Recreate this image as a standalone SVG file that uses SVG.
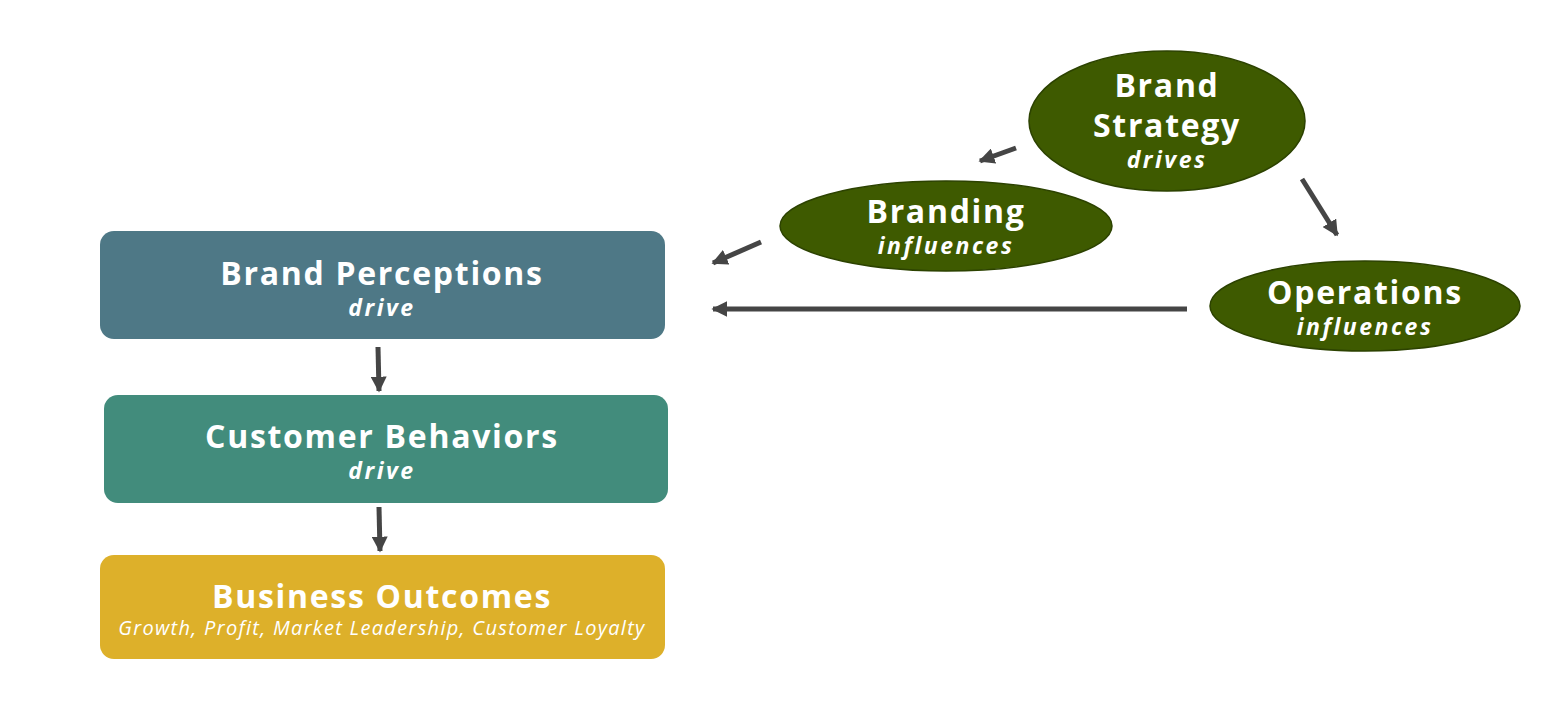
<svg xmlns="http://www.w3.org/2000/svg" width="1560" height="706" viewBox="0 0 1560 706">
<defs>
<marker id="ah" viewBox="0 0 10 10" refX="9" refY="5" markerWidth="3.2" markerHeight="3.2" orient="auto" markerUnits="strokeWidth">
<path d="M0,0 L10,5 L0,10 z" fill="#454545"/>
</marker>
</defs>
<style>
.t{font-family:"Open Sans","Liberation Sans",sans-serif;font-weight:700;fill:#fff;text-anchor:middle;font-size:32px;letter-spacing:1.7px}
.s{font-family:"Open Sans","Liberation Sans",sans-serif;font-weight:700;font-style:italic;fill:#fff;text-anchor:middle;font-size:23px;letter-spacing:2.5px}
.n{font-family:"Open Sans","Liberation Sans",sans-serif;font-weight:400;font-style:italic;fill:#fff;text-anchor:middle;font-size:20px;letter-spacing:1.3px}
.e{fill:#3e5a00;stroke:#2c4200;stroke-width:1.5}
.c{stroke:#454545;stroke-width:5;fill:none;marker-end:url(#ah)}
</style>
<rect width="1560" height="706" fill="#fff"/>
<g id="brand-perceptions">
<rect x="100" y="231" width="565" height="108" rx="14" fill="#4e7886"/>
<text class="t" x="382" y="285">Brand Perceptions</text>
<text class="s" x="382" y="316">drive</text>
</g>
<g id="customer-behaviors">
<rect x="104" y="395" width="564" height="108" rx="14" fill="#428c7c"/>
<text class="t" x="382" y="448">Customer Behaviors</text>
<text class="s" x="382" y="479">drive</text>
</g>
<g id="business-outcomes">
<rect x="100" y="555" width="565" height="104" rx="14" fill="#ddb02a"/>
<text class="t" x="382" y="608">Business Outcomes</text>
<text class="n" x="382" y="635">Growth, Profit, Market Leadership, Customer Loyalty</text>
</g>
<g id="brand-strategy">
<ellipse class="e" cx="1167" cy="121" rx="138" ry="70"/>
<text class="t" x="1167" y="97">Brand</text>
<text class="t" x="1167" y="137">Strategy</text>
<text class="s" x="1167" y="168">drives</text>
</g>
<g id="branding">
<ellipse class="e" cx="946" cy="226" rx="166" ry="45"/>
<text class="t" x="946" y="223">Branding</text>
<text class="s" x="946" y="254">influences</text>
</g>
<g id="operations">
<ellipse class="e" cx="1365" cy="306" rx="155" ry="45"/>
<text class="t" x="1365" y="304">Operations</text>
<text class="s" x="1365" y="335">influences</text>
</g>
<g id="connectors">
<line class="c" x1="1016" y1="148" x2="980" y2="161"/>
<line class="c" x1="1302" y1="179" x2="1337" y2="235"/>
<line class="c" x1="761" y1="242" x2="713" y2="263"/>
<line class="c" x1="1187" y1="309" x2="713" y2="309"/>
<line class="c" x1="378" y1="347" x2="379" y2="391"/>
<line class="c" x1="379" y1="507" x2="380" y2="551"/>
</g>
</svg>
